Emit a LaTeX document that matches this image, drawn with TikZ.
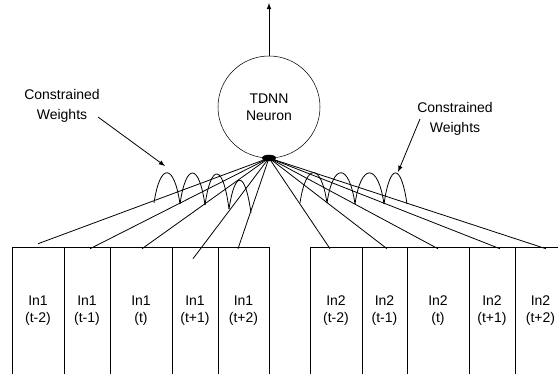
\documentclass[tikz,border=0pt]{standalone}
\usepackage{fontspec}
\setmainfont{Liberation Sans}
\usetikzlibrary{shapes.geometric,calc}

\begin{document}
\begin{tikzpicture}[x=0.75pt,y=0.75pt,yscale=-1,xscale=1,
		every node/.style={font=\fontsize{10.5}{12.75}\selectfont,inner sep=0.75pt},
		neuron/.style={draw,circle,minimum size=76.5pt,align=center},
		hub/.style={draw,fill=black,ellipse,minimum width=10pt,minimum height=4.5pt,inner sep=0pt},
		cell/.style={draw,rectangle,minimum height=96pt,align=center},
		note/.style={align=center,font=\fontsize{10.5}{14.5}\selectfont},
		wire/.style={line width=0.6pt},
		>=latex]
	\useasboundingbox (0,0) rectangle (558,374);
	
	%Neuron
	\node [neuron] (neuron) at (269,107) {TDNN\\Neuron};
	\node [hub] (hub) at (269,158) {};
	\coordinate (out) at (269,3);
	\draw [wire,->] (neuron) -- (out);
	
	%Input cells
	\foreach \nm/\cx/\w/\g/\t in {a1/38/52/1/t-2,a2/87/46/1/t-1,a3/141/62/1/t,a4/195/46/1/t+1,a5/243.5/51/1/t+2,
		b1/336/52/2/t-2,b2/384.5/45/2/t-1,b3/438/62/2/t,b4/492/46/2/t+1,b5/540.5/51/2/t+2}
	\node [cell,minimum width=\w*0.75pt] (\nm) at (\cx,311) {In\g\\(\t)};
	
	%Wires
	\foreach \nm/\dx/\dy in {a1/0/-3,a2/3/2,a3/1/2,a4/-2/12,a5/-5.5/2,
		b1/-6/2,b2/2.5/2,b3/0/2,b4/8/2,b5/5.5/2}
	\draw [wire] (hub.center) -- ($(\nm.north)+(\dx,\dy)$);
	
	%Humps
	\foreach \xa/\ya/\xb/\yb/\c in {154/203/180/204/162.5,180/204/205/205/162.5,205/205/229/209/163,229/209/251/213/170,
		300/203/327/203/162.5,327/203/355/204/162.5,355/204/384/204/162.5,384/204/407/204/162.5}
	\draw [wire] (\xa,\ya) .. controls (\xa+6,\c) and (\xb-6,\c) .. (\xb,\yb);
	
	%Labels
	\node [note] (cwleft) at (62,106) {Constrained\\Weights};
	\node [note] (cwright) at (455,119) {Constrained\\Weights};
	\coordinate (tipl) at (165,166);
	\coordinate (tipr) at (398,172);
	\draw [wire,->] ($(cwleft.east)+(-3,11)$) -- (tipl);
	\draw [wire,->] ($(cwright.west)+(4,0)$) -- (tipr);
	
\end{tikzpicture}
\end{document}
